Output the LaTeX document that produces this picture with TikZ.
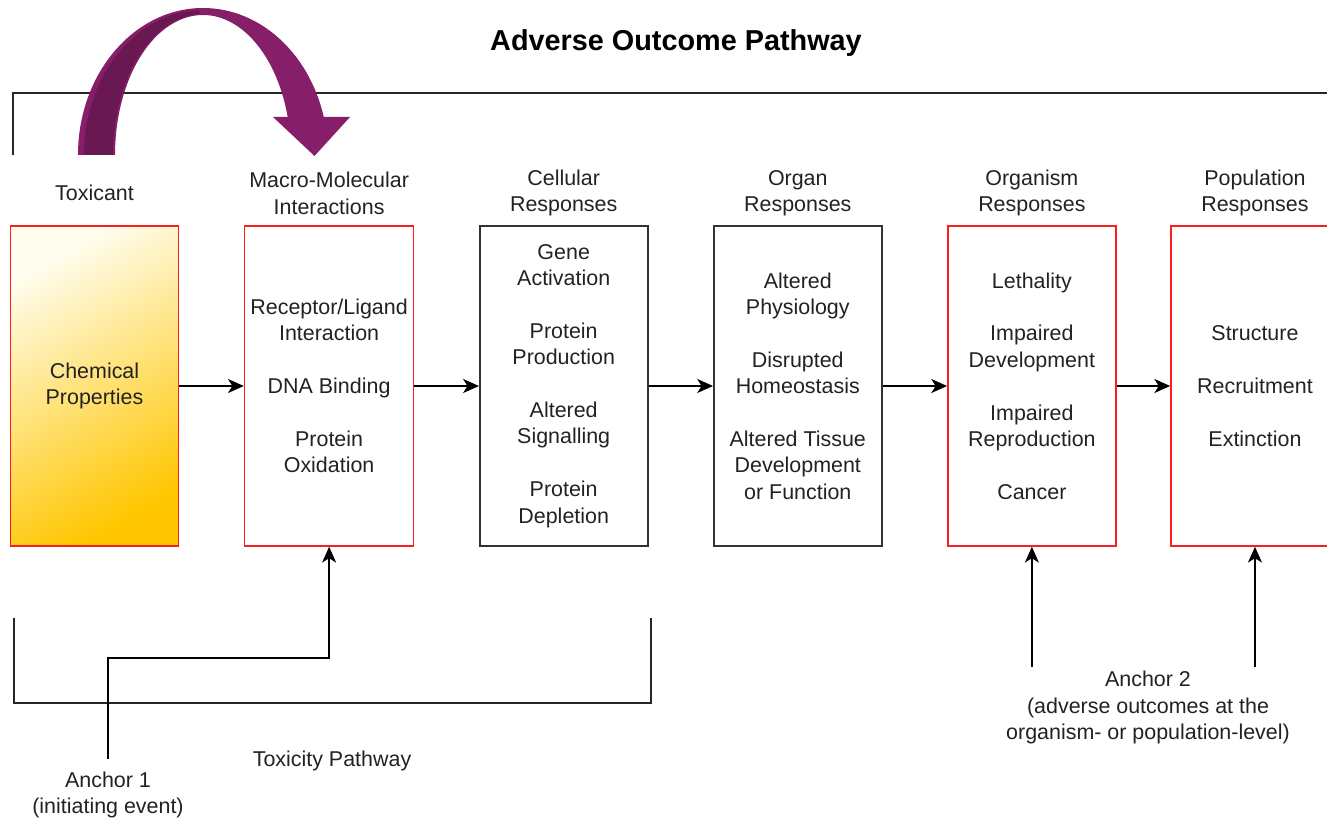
\documentclass[tikz,border=0pt]{standalone}
\usepackage{fontspec}
\setmainfont{Liberation Sans}
\usepackage{tikz}
\usetikzlibrary{positioning,arrows.meta}
\usepackage{xcolor}
\definecolor{boxred}{RGB}{250,30,30}
\definecolor{chemlight}{RGB}{255,253,238}
\definecolor{chemgold}{RGB}{255,198,0}
\definecolor{aoppurple}{RGB}{135,30,105}
\definecolor{aopdark}{RGB}{106,24,82}
\definecolor{inkgray}{RGB}{34,34,34}

\begin{document}
\begin{tikzpicture}[node distance=1.29cm,
    txt/.style={font=\fontsize{12.2}{15}\selectfont, text=inkgray, align=center},
    stage/.style={rectangle, draw=black!80, line width=0.9pt, minimum width=3.36cm, minimum height=6.4cm, txt},
    redstage/.style={stage, draw=boxred},
    hdr/.style={txt, inner sep=0pt},
    arr/.style={-{Stealth[length=9pt, width=8pt, inset=2.5pt]}, line width=0.9pt},
    brk/.style={line width=1pt, black!85}]

    \clip (0,0) rectangle (26.54,-16.4);

    \node[font=\fontsize{16.4}{19}\selectfont\bfseries] (title) at (13.52,-0.87) {Adverse Outcome Pathway};

    \node[redstage, top color=chemlight, bottom color=chemgold, shading angle=30] (chem) at (1.89,-7.72) {Chemical\\Properties};
    \node[redstage, right=of chem] (mm) {Receptor/Ligand\\Interaction\\[15pt]DNA Binding\\[15pt]Protein\\Oxidation};
    \node[stage, right=of mm] (cell) {Gene\\Activation\\[15pt]Protein\\Production\\[15pt]Altered\\Signalling\\[15pt]Protein\\Depletion};
    \node[stage, right=of cell] (organ) {Altered\\Physiology\\[15pt]Disrupted\\Homeostasis\\[15pt]Altered Tissue\\Development\\or Function};
    \node[redstage, right=of organ] (organism) {Lethality\\[15pt]Impaired\\Development\\[15pt]Impaired\\Reproduction\\[15pt]Cancer};
    \node[redstage, right=1.07cm of organism] (population) {Structure\\[15pt]Recruitment\\[15pt]Extinction};

    \node[hdr] (hchem) at ([yshift=0.64cm]chem.north) {Toxicant};
    \node[hdr] (hmm) at ([yshift=0.64cm]mm.north) {Macro-Molecular\\Interactions};
    \node[hdr] (hcell) at ([yshift=0.64cm]cell.north) {Cellular\\Responses};
    \node[hdr] (horgan) at ([yshift=0.64cm]organ.north) {Organ\\Responses};
    \node[hdr] (horganism) at ([yshift=0.64cm]organism.north) {Organism\\Responses};
    \node[hdr] (hpopulation) at ([yshift=0.64cm]population.north) {Population\\Responses};

    \draw[arr] (chem) -- (mm);
    \draw[arr] (mm) -- (cell);
    \draw[arr] (cell) -- (organ);
    \draw[arr] (organ) -- (organism);
    \draw[arr] (organism) -- (population);

    % adverse outcome bracket and curved arrow
    \draw[brk] (0.26,-3.1) -- (0.26,-1.86) -- (26.6,-1.86);
    \fill[aoppurple] (1.56,-3.1) arc[start angle=180, end angle=15, x radius=2.5cm, y radius=2.94cm]
        -- (7.0,-2.34) -- (6.29,-3.12) -- (5.46,-2.34) -- (5.754,-2.34)
        arc[start angle=15.75, end angle=180, x radius=1.76cm, y radius=2.8cm] -- cycle;
    \fill[aopdark] (1.68,-3.1) arc[start angle=180, end angle=92, x radius=2.38cm, y radius=2.9cm]
        -- ({4.06+1.8*cos(92)},{-3.1+2.82*sin(92)})
        arc[start angle=92, end angle=180, x radius=1.8cm, y radius=2.82cm] -- cycle;

    % toxicity pathway bracket
    \draw[brk] (0.28,-12.36) -- (0.28,-14.06) -- (13.02,-14.06) -- (13.02,-12.36);
    \node[txt] (toxpath) at (6.64,-15.22) {Toxicity Pathway};

    \node[txt, outer sep=4pt] (anchor1) at (2.16,-15.9) {Anchor 1\\(initiating event)};
    \coordinate (a1bend) at (4,-13.16);
    \draw[arr] (anchor1.north) |- (a1bend) -| (mm.south);

    \node[txt] (anchor2) at (22.96,-14.15) {Anchor 2\\(adverse outcomes at the\\organism- or population-level)};
    \coordinate (a2base) at (22.96,-13.34);
    \draw[arr] (organism.south |- a2base) -- (organism.south);
    \draw[arr] (population.south |- a2base) -- (population.south);
\end{tikzpicture}
\end{document}
